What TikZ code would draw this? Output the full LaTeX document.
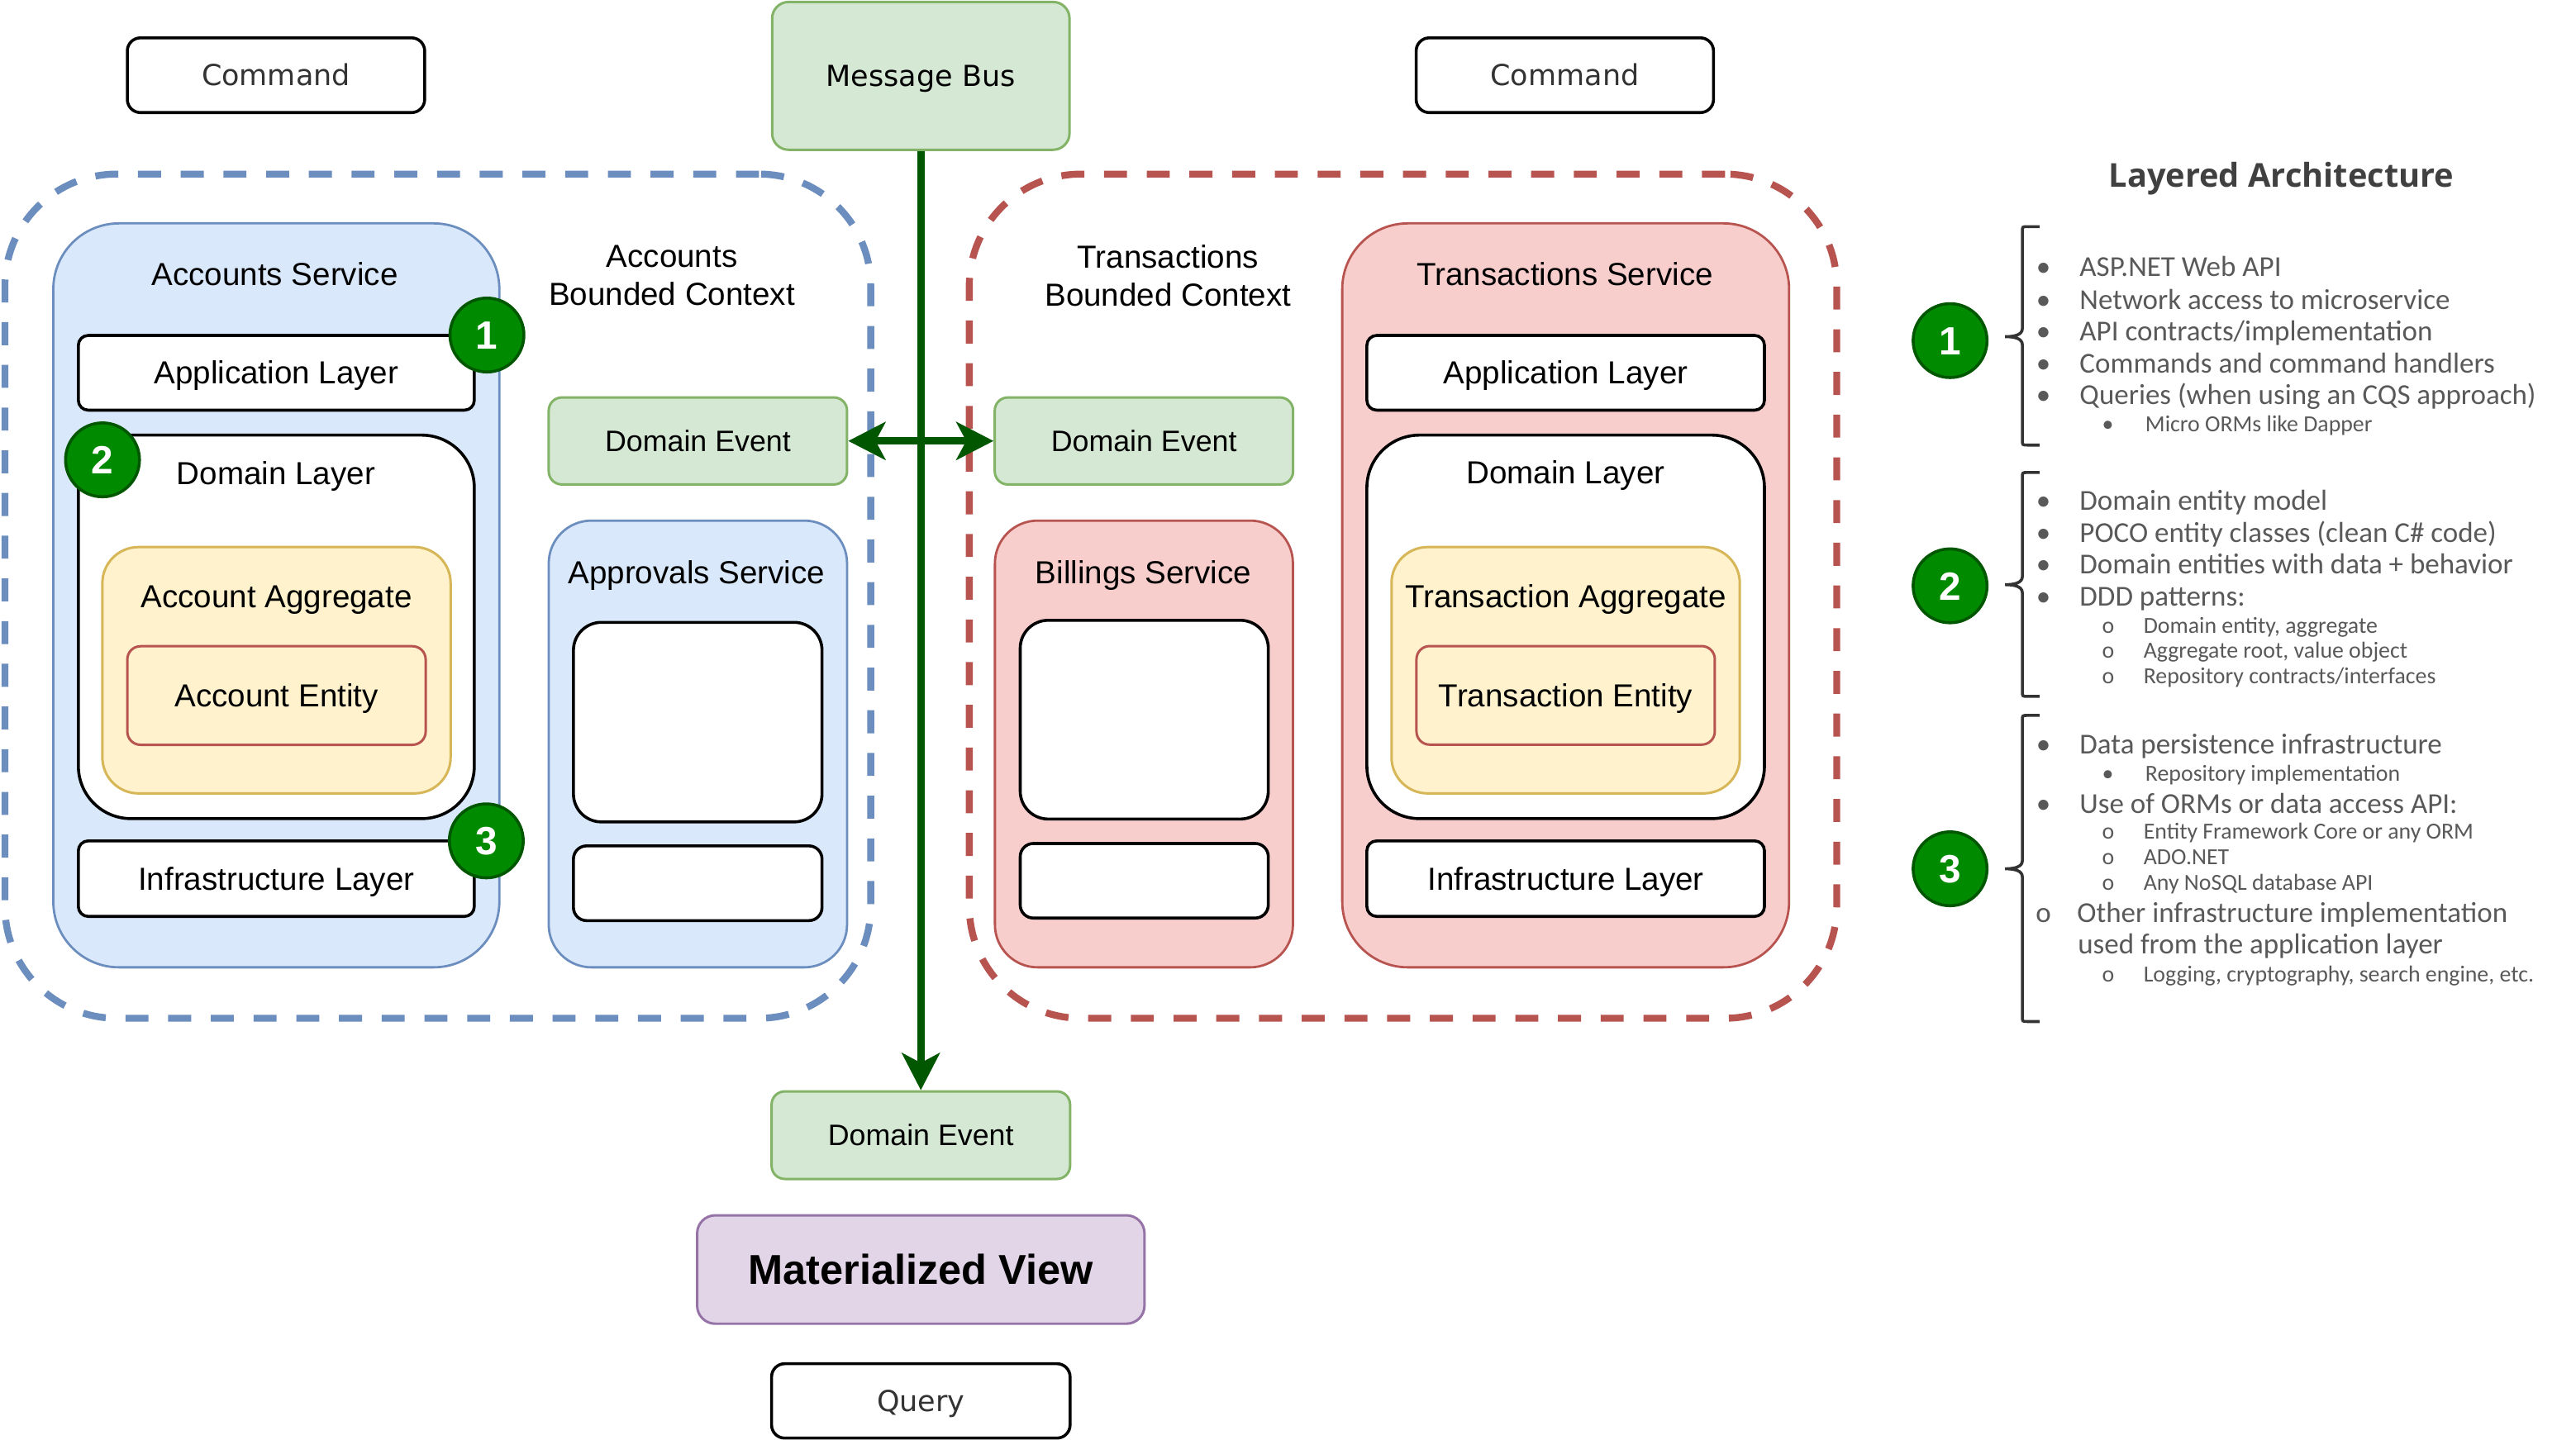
\documentclass[tikz,border=0pt]{standalone}
\usepackage{fontspec}
\setmainfont{Liberation Sans}
\newfontfamily\uifont{DejaVu Sans}
\newfontfamily\titlefont{Open Sans}
\newfontfamily\listfont{Carlito}
\usepackage{xcolor}
\usetikzlibrary{arrows.meta, positioning}

\definecolor{evtfill}{HTML}{D5E8D4}
\definecolor{evtline}{HTML}{82B366}
\definecolor{accfill}{HTML}{DAE8FC}
\definecolor{accline}{HTML}{6C8EBF}
\definecolor{trxfill}{HTML}{F8CECC}
\definecolor{trxline}{HTML}{B85450}
\definecolor{aggfill}{HTML}{FFF2CC}
\definecolor{aggline}{HTML}{D6B656}
\definecolor{viewfill}{HTML}{E1D5E7}
\definecolor{viewline}{HTML}{9673A6}
\definecolor{badgefill}{HTML}{008A00}
\definecolor{badgeline}{HTML}{005700}
\definecolor{busgreen}{HTML}{005700}
\definecolor{cmdgray}{HTML}{333333}
\definecolor{listgray}{HTML}{595959}
\definecolor{titlegray}{HTML}{404040}

\newcommand{\dotitem}{\makebox[13.25pt][l]{•}}
\newcommand{\ringitem}{\makebox[12.6pt][l]{o}}
\newcommand{\subdot}{\makebox[13.15pt][l]{•}}
\newcommand{\subring}{\makebox[12.65pt][l]{o}}

\tikzset{
  sz/.style 2 args={minimum width=#1*0.5pt, minimum height=#2*0.5pt},
  rbox/.style={draw, rounded corners=#1, inner sep=0pt, text height=6.9pt, text depth=0pt, font=\fontsize{9.7}{11.6}\selectfont},
  rbox/.default=3pt,
  txt/.style={inner sep=0pt, text height=6.9pt, text depth=0pt, font=\fontsize{9.7}{11.6}\selectfont},
  ctxlbl/.style={inner sep=0pt, align=center, font=\fontsize{9.7}{11.5}\selectfont},
  ctx/.style={draw, rounded corners=34pt, line width=2.1pt, dash pattern=on 7pt off 6pt},
  cmd/.style={rbox=4pt, line width=0.9pt, text=cmdgray, font=\uifont\fontsize{8.8}{11}\selectfont, text height=6.4pt},
  evt/.style={rbox=4pt, fill=evtfill, draw=evtline, line width=0.75pt, font=\fontsize{9}{11}\selectfont, text height=6.4pt},
  svc/.style={rbox=20pt, line width=0.7pt},
  smallsvc/.style={rbox=13pt, line width=0.7pt},
  layerbox/.style={rbox=3pt, fill=white, line width=0.9pt},
  agg/.style={rbox=11pt, fill=aggfill, draw=aggline, line width=0.75pt},
  ent/.style={rbox=4pt, fill=aggfill, draw=trxline, line width=0.75pt},
  badge/.style={circle, draw=badgeline, fill=badgefill, line width=0.9pt, minimum size=22.5pt, inner sep=0pt, text=white, font=\bfseries\fontsize{12}{14}\selectfont, text height=8.6pt, text depth=0pt},
  bustip/.tip={Stealth[length=11.3pt, width=11.5pt, inset=3pt]},
  flow/.style={draw=busgreen, line width=2.2pt, -bustip},
  layerbrace/.style={draw=cmdgray, line width=0.9pt},
  itm/.style={anchor=west, inner sep=0pt, text=listgray, font=\listfont\fontsize{8.8}{10.5}\selectfont, text height=5.7pt, text depth=0pt},
  subitm/.style={itm, font=\listfont\fontsize{7}{8.4}\selectfont, text height=4.5pt}
}

\begin{document}
\begin{tikzpicture}[x=0.5pt, y=-0.5pt]
  \useasboundingbox (0,0) rectangle (1568,876.8);

  % bounded contexts
  \node[ctx, draw=accline, sz={527}{514}] (ctxacc) at (266.5,363) {};
  \node[ctx, draw=trxline, sz={528}{514}] (ctxtrx) at (854,363) {};

  \node[cmd, sz={181}{45.5}] (cmdacc) at (168,45.8) {Command};
  \node[evt, rbox=5pt, sz={181}{90}, font=\uifont\fontsize{8.8}{11}\selectfont, text height=6.4pt, text=black] (bus) at (560.5,46.2) {Message Bus};
  \node[cmd, sz={181}{45.5}] (cmdtrx) at (952.5,45.8) {Command};

  % accounts
  \node[svc, fill=accfill, draw=accline, sz={271.5}{453}] (accsvc) at (168.2,362.5) {};
  \node[txt] (accsvct) at (167.3,167) {Accounts Service};
  \node[layerbox, sz={241}{45.5}] (accapp) at (168.2,227) {Application Layer};
  \node[layerbox, rounded corners=16pt, sz={241}{233.5}] (accdom) at (168.2,381.7) {};
  \node[txt] (accdomt) at (168,288) {Domain Layer};
  \node[agg, sz={212}{150}] (accagg) at (168.3,408.1) {};
  \node[txt] (accaggt) at (168.3,363) {Account Aggregate};
  \node[ent, sz={181.6}{60}] (accent) at (168.3,423.5) {Account Entity};
  \node[layerbox, sz={241}{46}] (accinf) at (168.2,535) {Infrastructure Layer};
  \node[badge] (acc1) at (296.4,204) {1};
  \node[badge] (acc2) at (62.4,280) {2};
  \node[badge] (acc3) at (296,512) {3};

  \node[ctxlbl] (ctxacct) at (409,167.7) {Accounts\\Bounded Context};
  \node[evt, sz={181.6}{53}] (evtacc) at (424.8,268.5) {Domain Event};
  \node[smallsvc, fill=accfill, draw=accline, sz={181.6}{272}] (apprsvc) at (424.8,453) {};
  \node[txt] (apprsvct) at (424,348.4) {Approvals Service};
  \node[layerbox, rounded corners=8.5pt, sz={151.3}{121.5}] (apprtop) at (424.7,439.7) {};
  \node[layerbox, rounded corners=4pt, sz={151.3}{45.5}] (apprbot) at (424.7,537.8) {};

  % transactions
  \node[ctxlbl] (ctxtrxt) at (711,167.7) {Transactions\\Bounded Context};
  \node[evt, sz={181.6}{53}] (evttrx) at (696.3,268.5) {Domain Event};
  \node[smallsvc, fill=trxfill, draw=trxline, sz={181.4}{272}] (billsvc) at (696.3,453) {};
  \node[txt] (billsvct) at (696,348.4) {Billings Service};
  \node[layerbox, rounded corners=8.5pt, sz={151}{121}] (billtop) at (696.5,438.2) {};
  \node[layerbox, rounded corners=4pt, sz={151}{45.4}] (billbot) at (696.5,536.3) {};

  \node[svc, fill=trxfill, draw=trxline, sz={272}{453}] (trxsvc) at (953,362.5) {};
  \node[txt] (trxsvct) at (952.5,166.8) {Transactions Service};
  \node[layerbox, sz={242}{45.5}] (trxapp) at (953,227) {Application Layer};
  \node[layerbox, rounded corners=16pt, sz={242}{233.5}] (trxdom) at (953,381.7) {};
  \node[txt] (trxdomt) at (953,287.4) {Domain Layer};
  \node[agg, sz={212}{150}] (trxagg) at (953,408.1) {};
  \node[txt] (trxaggt) at (953,363) {Transaction Aggregate};
  \node[ent, sz={181.6}{60}] (trxent) at (953,423.4) {Transaction Entity};
  \node[layerbox, sz={242}{46}] (trxinf) at (953,535) {Infrastructure Layer};

  % read side
  \node[evt, sz={181.7}{53.3}] (evtout) at (560.5,691.2) {Domain Event};
  \node[rbox=5.5pt, fill=viewfill, draw=viewline, line width=0.75pt, sz={272.3}{66}, font=\bfseries\fontsize{12.7}{15}\selectfont, text height=9.1pt] (matview) at (560.5,773) {Materialized View};
  \node[cmd, sz={181.7}{45.3}] (query) at (560.5,853) {Query};

  \draw[flow] (bus) -- (evtout);
  \draw[flow, bustip-bustip] (evtacc) -- (evttrx);

  % layered architecture
  \node[inner sep=0pt, text=titlegray, font=\titlefont\bfseries\fontsize{10}{12}\selectfont, text height=7.2pt, text depth=0pt] (title) at (1388.6,106.7) {Layered Architecture};

  \node[badge] (lay1) at (1187,207.4) {1};
  \node[badge] (lay2) at (1187,356.7) {2};
  \node[badge] (lay3) at (1187,529) {3};

  \draw[layerbrace] (1241.5,138) -- (1234,138) .. controls (1231,138) .. (1231,141) -- (1231,200)
    .. controls (1231,204) and (1226,205) .. (1220.5,205) .. controls (1226,205) and (1231,206) .. (1231,210)
    -- (1231,268) .. controls (1231,271) .. (1234,271) -- (1241.5,271);
  \draw[layerbrace] (1241.5,287.7) -- (1234,287.7) .. controls (1231,287.7) .. (1231,290.7) -- (1231,351)
    .. controls (1231,355) and (1226,356) .. (1220.5,356) .. controls (1226,356) and (1231,357) .. (1231,361)
    -- (1231,421) .. controls (1231,424) .. (1234,424) -- (1241.5,424);
  \draw[layerbrace] (1241.5,435.6) -- (1234,435.6) .. controls (1231,435.6) .. (1231,438.6) -- (1231,524)
    .. controls (1231,528) and (1226,529) .. (1220.5,529) .. controls (1226,529) and (1231,530) .. (1231,534)
    -- (1231,619) .. controls (1231,622) .. (1234,622) -- (1241.5,622);

  \node[itm] (l1a) at (1239,162.4) {\dotitem ASP.NET Web API};
  \node[itm] (l1b) at (1239,182.6) {\dotitem Network access to microservice};
  \node[itm] (l1c) at (1239,201.7) {\dotitem API contracts/implementation};
  \node[itm] (l1d) at (1239,221.4) {\dotitem Commands and command handlers};
  \node[itm] (l1e) at (1239,240.5) {\dotitem Queries (when using an CQS approach)};
  \node[subitm] (l1f) at (1279.2,258.5) {\subdot Micro ORMs like Dapper};

  \node[itm] (l2a) at (1239,305) {\dotitem Domain entity model};
  \node[itm] (l2b) at (1239,324.8) {\dotitem POCO entity classes (clean C\# code)};
  \node[itm] (l2c) at (1239,343.9) {\dotitem Domain entities with data + behavior};
  \node[itm] (l2d) at (1239,363.4) {\dotitem DDD patterns:};
  \node[subitm] (l2e) at (1279.1,380.9) {\subring Domain entity, aggregate};
  \node[subitm] (l2f) at (1279.1,396.4) {\subring Aggregate root, value object};
  \node[subitm] (l2g) at (1279.1,412) {\subring Repository contracts/interfaces};

  \node[itm] (l3a) at (1239,453.5) {\dotitem Data persistence infrastructure};
  \node[subitm] (l3b) at (1279.2,471.2) {\subdot Repository implementation};
  \node[itm] (l3c) at (1239,489.3) {\dotitem Use of ORMs or data access API:};
  \node[subitm] (l3d) at (1279.1,506.4) {\subring Entity Framework Core or any ORM};
  \node[subitm] (l3e) at (1279.1,522) {\subring ADO.NET};
  \node[subitm] (l3f) at (1279.1,537.7) {\subring Any NoSQL database API};
  \node[itm] (l3g) at (1238.8,555.8) {\ringitem Other infrastructure implementation};
  \node[itm] (l3h) at (1264.4,575) {used from the application layer};
  \node[subitm] (l3i) at (1279.1,593.5) {\subring Logging, cryptography, search engine, etc.};
\end{tikzpicture}
\end{document}
